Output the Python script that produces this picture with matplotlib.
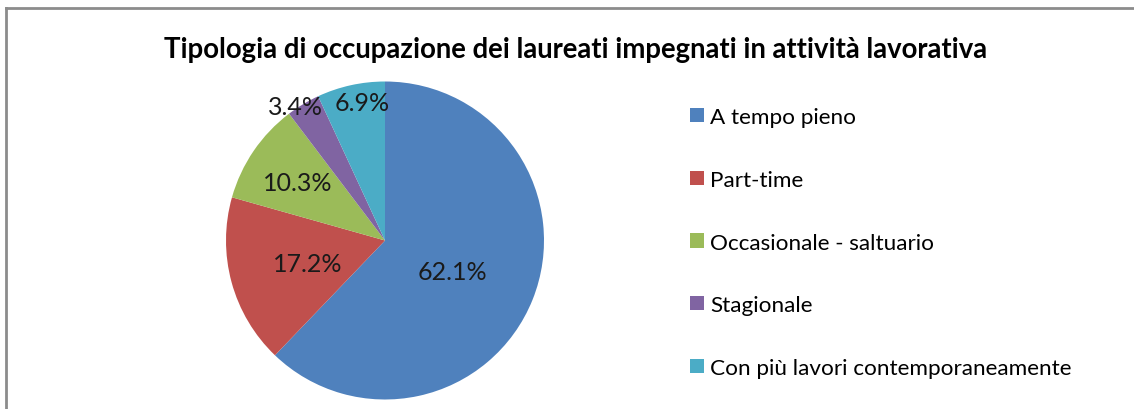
import numpy as np
import matplotlib
matplotlib.use("Agg")
import matplotlib.pyplot as plt
from matplotlib.lines import Line2D

plt.rcParams["font.family"] = ["Lato", "DejaVu Sans"]

categories = ["A tempo pieno", "Part-time", "Occasionale - saltuario",
              "Stagionale", "Con più lavori contemporaneamente"]
shares = [62.1, 17.2, 10.3, 3.4, 6.9]
colors = ["#4F81BD", "#C0504D", "#9BBB59", "#8064A2", "#4BACC6"]
# label placement: distance (fraction of radius) and small angle nudge (deg)
label_dist = [0.47, 0.51, 0.66, 1.01, 0.88]
label_nudge = [-3.0, 1.5, 0.5, 2.7, -2.9]

W, H = 1134, 410
fig = plt.figure(figsize=(W / 100, H / 100), dpi=100)

# chart frame (top and left edges visible in the crop)
fig.add_artist(Line2D([6 / W, 1], [1 - 9 / H, 1 - 9 / H], color="#8c8c8c", lw=2))
fig.add_artist(Line2D([6 / W, 6 / W], [0, 1 - 9 / H], color="#8c8c8c", lw=2))

fig.text(576 / W, 1 - 50 / H,
         "Tipologia di occupazione dei laureati impegnati in attività lavorativa",
         ha="center", va="center", fontsize=19.8, fontweight="bold")

cx, cy, r = 385, 410 - 241.5, 159
ax = fig.add_axes([(cx - r) / W, (cy - r) / H, 2 * r / W, 2 * r / H])
wedges, _ = ax.pie(shares, colors=colors, startangle=90, counterclock=False,
                   radius=1.0, wedgeprops=dict(linewidth=0))
ax.set_xlim(-1, 1)
ax.set_ylim(-1, 1)
ax.set_aspect("auto")
ax.axis("off")

for w, v, d, nd in zip(wedges, shares, label_dist, label_nudge):
    ang = np.deg2rad((w.theta1 + w.theta2) / 2 + nd)
    ax.text(d * np.cos(ang), d * np.sin(ang), f"{v:.1f}%",
            ha="center", va="center", fontsize=18, color="#1a1a1a", clip_on=False)

fig.legend(wedges, categories, loc="upper left",
           bbox_to_anchor=(690 / W, 1 - 108 / H), frameon=False,
           fontsize=16.2, handlelength=0.6, handleheight=0.6,
           handletextpad=0.3, labelspacing=1.9, borderpad=0, borderaxespad=0)

fig.savefig("out.png", dpi=100, facecolor="white")
